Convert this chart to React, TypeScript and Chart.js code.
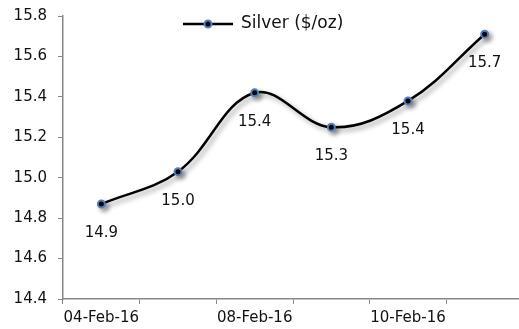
import React, { useEffect, useRef } from "react";
import { Chart, registerables } from "chart.js";

Chart.register(...registerables);

// Trading days shown on the axis and the matching silver price ($/oz)
const dates = ["04-Feb-16", "05-Feb-16", "08-Feb-16", "09-Feb-16", "10-Feb-16", "11-Feb-16"];
const silverPrices = [14.87, 15.03, 15.42, 15.25, 15.38, 15.71];
const seriesName = "Silver ($/oz)";
const yTicks = [14.4, 14.6, 14.8, 15.0, 15.2, 15.4, 15.6, 15.8];

const FONT = "'DejaVu Sans', sans-serif";
const AXIS_GREY = "#878787";
const LINE_COLOR = "#000000";
const MARKER_BORDER = "#4f81bd";

// Soft drop shadow under the line and its markers
const shadowPlugin = {
  id: "lineShadow",
  beforeDatasetDraw(chart: any) {
    const ctx = chart.ctx;
    ctx.save();
    ctx.shadowColor = "rgba(0,0,0,0.38)";
    ctx.shadowBlur = 5;
    ctx.shadowOffsetX = 3;
    ctx.shadowOffsetY = 3;
  },
  afterDatasetDraw(chart: any) {
    chart.ctx.restore();
  },
};

// Value labels below each point
const valueLabelPlugin = {
  id: "valueLabels",
  afterDatasetsDraw(chart: any) {
    const ctx = chart.ctx;
    const meta = chart.getDatasetMeta(0);
    const values = chart.data.datasets[0].data as number[];
    ctx.save();
    ctx.font = `15px ${FONT}`;
    ctx.fillStyle = "#111";
    ctx.textAlign = "center";
    ctx.textBaseline = "middle";
    meta.data.forEach((pt: any, i: number) => {
      ctx.fillText(values[i].toFixed(1), pt.x, pt.y + 29);
    });
    ctx.restore();
  },
};

// Legend drawn over the top of the plot: line sample with a marker, then the name
const overlayLegendPlugin = {
  id: "overlayLegend",
  afterDraw(chart: any) {
    const ctx = chart.ctx;
    const ds = chart.data.datasets[0];
    const y = 24;
    const x0 = 183;
    const x1 = 233;
    ctx.save();
    ctx.strokeStyle = ds.borderColor;
    ctx.lineWidth = ds.borderWidth;
    ctx.beginPath();
    ctx.moveTo(x0, y);
    ctx.lineTo(x1, y);
    ctx.stroke();
    ctx.beginPath();
    ctx.arc((x0 + x1) / 2, y, ds.pointRadius, 0, Math.PI * 2);
    ctx.fillStyle = ds.pointBackgroundColor;
    ctx.fill();
    ctx.lineWidth = ds.pointBorderWidth;
    ctx.strokeStyle = ds.pointBorderColor;
    ctx.stroke();
    ctx.font = `17px ${FONT}`;
    ctx.fillStyle = "#111";
    ctx.textAlign = "left";
    ctx.textBaseline = "middle";
    ctx.fillText(ds.label, x1 + 8, y);
    ctx.restore();
  },
};

export default function App() {
  const canvasRef = useRef<HTMLCanvasElement | null>(null);

  useEffect(() => {
    if (!canvasRef.current) return;
    const chart = new Chart(canvasRef.current, {
      type: "line",
      data: {
        labels: dates,
        datasets: [
          {
            label: seriesName,
            data: silverPrices,
            borderColor: LINE_COLOR,
            borderWidth: 2.5,
            tension: 0.38,
            pointRadius: 3.5,
            pointBorderWidth: 2,
            pointBackgroundColor: "#000000",
            pointBorderColor: MARKER_BORDER,
            fill: false,
          },
        ],
      },
      options: {
        animation: false,
        responsive: false,
        events: [],
        layout: { padding: { left: 8, right: 1, top: 16, bottom: 0 } },
        plugins: {
          legend: { display: false },
          tooltip: { enabled: false },
        },
        scales: {
          x: {
            type: "category",
            offset: true,
            afterFit(scale: any) {
              scale.height = 30;
            },
            grid: {
              offset: true,
              drawOnChartArea: false,
              tickLength: 5,
              color: AXIS_GREY,
            },
            border: { color: AXIS_GREY, width: 1.5 },
            ticks: {
              autoSkip: false,
              maxRotation: 0,
              padding: 5,
              color: "#111",
              font: { family: FONT, size: 15 },
              callback: (_v: any, i: number) => (i % 2 === 0 ? dates[i] : ""),
            },
          },
          y: {
            min: yTicks[0],
            max: yTicks[yTicks.length - 1],
            afterFit(scale: any) {
              scale.width = 55;
              scale.paddingTop = 0;
              scale.paddingBottom = 0;
            },
            afterBuildTicks(scale: any) {
              scale.ticks = yTicks.map((v) => ({ value: v }));
            },
            grid: {
              drawOnChartArea: false,
              tickLength: 5,
              color: AXIS_GREY,
            },
            border: { color: AXIS_GREY, width: 1.5 },
            ticks: {
              padding: 11,
              color: "#111",
              font: { family: FONT, size: 15 },
              callback: (v: any) => Number(v).toFixed(1),
            },
          },
        },
      },
      plugins: [shadowPlugin, valueLabelPlugin, overlayLegendPlugin],
    });
    return () => chart.destroy();
  }, []);

  return (
    <div
      style={{
        position: "fixed",
        left: 0,
        top: 0,
        width: 519,
        height: 329,
        overflow: "hidden",
        background: "#fff",
      }}
    >
      <canvas ref={canvasRef} width={529} height={329} style={{ width: 529, height: 329 }} />
    </div>
  );
}
